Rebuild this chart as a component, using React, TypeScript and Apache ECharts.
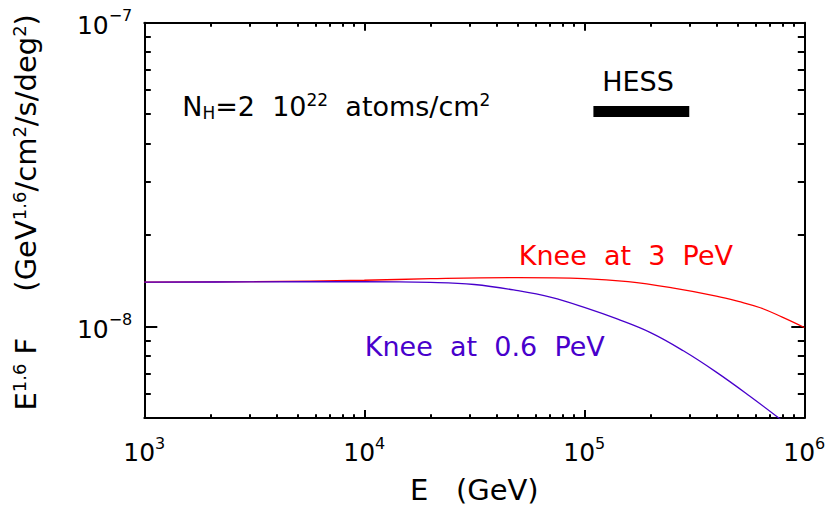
import { useEffect, useRef } from "react";
import * as echarts from "echarts";

// ---- data ----
const energyMin = 1e3; // GeV
const energyMax = 1e6;
const fluxMin = 5e-9;
const fluxMax = 1e-7;

const xMajorExponents = [3, 4, 5, 6];
const yMajorExponents = [-8, -7];

// Knee at 3 PeV (red)
const redEnergy = [1e3, 3.16e3, 1e4, 2e4, 5e4, 1e5, 1.58e5, 2.51e5, 3.98e5, 5.01e5, 6.31e5, 7.94e5, 1e6];
const redFlux = [1.4e-8, 1.405e-8, 1.42e-8, 1.437e-8, 1.448e-8, 1.438e-8, 1.405e-8, 1.34e-8, 1.26e-8, 1.21e-8, 1.153e-8, 1.074e-8, 0.993e-8];

// Knee at 0.6 PeV (blue)
const blueEnergy = [1e3, 3e3, 1e4, 2e4, 3.16e4, 5e4, 7.08e4, 1e5, 1.41e5, 2e5, 2.82e5, 3.98e5, 5.62e5, 7.94e5];
const blueFlux = [1.4e-8, 1.402e-8, 1.405e-8, 1.397e-8, 1.375e-8, 1.312e-8, 1.247e-8, 1.156e-8, 1.059e-8, 0.955e-8, 0.832e-8, 0.708e-8, 0.592e-8, 0.49e-8];

// HESS bar
const hessEnergy = [1.1e5, 3.0e5];
const hessFlux = [5.1e-8, 5.1e-8];

// annotations
const annotationText = [
  "{m|N}{sub|H}{m|=2  10}{sup|22}{m|  atoms/cm}{sup|2}",
  "{m|HESS}",
  "{m|Knee  at  3  PeV}",
  "{m|Knee  at  0.6  PeV}",
];
const annotationEnergy = [1.48e3, 1.2e5, 5.01e4, 1.0e4];
const annotationFlux = [5.3e-8, 6.42e-8, 1.707e-8, 8.6e-9];
const annotationColor = ["#000000", "#000000", "#ff0000", "#4800cc"];

const xTitle = "E   (GeV)";
const yTitle = "{m|E}{sup|1.6}{m| F     (GeV}{sup|1.6}{m|/cm}{sup|2}{m|/s/deg}{sup|2}{m|)}";

const FONT = "DejaVu Sans";
const lg = (v: number) => Math.log10(v);

const powerLabel = (v: number) => {
  const e = Math.round(v);
  const s = e < 0 ? "\u2212" + String(-e) : String(e);
  return `{b|10}{s|${s}}`;
};

const tickRich = {
  b: { fontFamily: FONT, fontSize: 25, lineHeight: 30, color: "#000", verticalAlign: "bottom" },
  s: { fontFamily: FONT, fontSize: 16, lineHeight: 16, color: "#000", verticalAlign: "top" },
};

export default function App() {
  const ref = useRef<HTMLDivElement>(null);

  useEffect(() => {
    if (!ref.current) return;
    const chart = echarts.init(ref.current, null, { renderer: "svg" });

    const xLo = lg(energyMin);
    const xHi = lg(energyMax);
    const yLo = lg(fluxMin);
    const yHi = lg(fluxMax);

    const xMajor = xMajorExponents.slice();
    const xMinor: number[] = [];
    for (let n = 3; n < 6; n++) for (let k = 2; k <= 9; k++) xMinor.push(lg(k * Math.pow(10, n)));
    const yMajor = yMajorExponents.slice();
    const yMinor: number[] = [];
    for (let n = -9; n < -7; n++)
      for (let k = 2; k <= 9; k++) {
        const v = lg(k * Math.pow(10, n));
        if (v > yLo + 1e-6 && v < yHi - 1e-6) yMinor.push(v);
      }

    const gridRect = { left: 144.3, right: 25.7, top: 22.7, bottom: 90.7 };
    const axisLineStyle = { color: "#000", width: 2 };

    const mkX = (grid: number, pos: "top" | "bottom", major: boolean, labels: boolean) => ({
      type: "value",
      gridIndex: grid,
      position: pos,
      min: xLo,
      max: xHi,
      interval: 1,
      axisLine: { show: major, onZero: false, lineStyle: axisLineStyle },
      axisTick: {
        show: true,
        inside: true,
        length: major ? 8 : 4,
        customValues: major ? xMajor : xMinor,
        lineStyle: { color: "#000", width: 2 },
      },
      axisLabel: labels
        ? { show: true, customValues: xMajor, formatter: powerLabel, rich: tickRich, margin: 17 }
        : { show: false },
      splitLine: { show: false },
      name: labels ? xTitle : "",
      nameLocation: "middle",
      nameGap: 57,
      nameTextStyle: { fontFamily: FONT, fontSize: 29, color: "#000" },
    });

    const mkY = (grid: number, pos: "left" | "right", major: boolean, labels: boolean) => ({
      type: "value",
      gridIndex: grid,
      position: pos,
      min: yLo,
      max: yHi,
      axisLine: { show: major, onZero: false, lineStyle: axisLineStyle },
      axisTick: {
        show: true,
        inside: true,
        length: major ? 13 : 6.5,
        customValues: major ? yMajor : yMinor,
        lineStyle: { color: "#000", width: 2 },
      },
      axisLabel: labels
        ? { show: true, customValues: yMajor, formatter: powerLabel, rich: tickRich, margin: 12 }
        : { show: false },
      splitLine: { show: false },
      name: labels ? yTitle : "",
      nameLocation: "middle",
      nameGap: 102,
      nameTextStyle: {
        fontFamily: FONT,
        fontSize: 29,
        color: "#000",
        padding: [0, 0, 0, 16],
        rich: {
          m: { fontFamily: FONT, fontSize: 29, lineHeight: 32, color: "#000" },
          sup: { fontFamily: FONT, fontSize: 18, lineHeight: 18, color: "#000", verticalAlign: "top" },
        },
      },
    });

    const lineSeries = (name: string, xs: number[], ys: number[], color: string) => ({
      name,
      type: "line",
      xAxisIndex: 0,
      yAxisIndex: 0,
      data: xs.map((e, i) => [lg(e), lg(ys[i])]),
      showSymbol: false,
      symbol: "none",
      smooth: 0.4,
      clip: true,
      lineStyle: { color, width: 1.3, opacity: 1 },
    });

    chart.setOption({
      animation: false,
      backgroundColor: "#ffffff",
      grid: [
        { ...gridRect, containLabel: false },
        { ...gridRect, containLabel: false },
      ],
      xAxis: [mkX(0, "bottom", true, true), mkX(0, "top", true, false), mkX(1, "bottom", false, false), mkX(1, "top", false, false)],
      yAxis: [mkY(0, "left", true, true), mkY(0, "right", true, false), mkY(1, "left", false, false), mkY(1, "right", false, false)],
      series: [
        lineSeries("Knee at 3 PeV", redEnergy, redFlux, "#ff0000"),
        lineSeries("Knee at 0.6 PeV", blueEnergy, blueFlux, "#4800cc"),
        {
          name: "HESS",
          type: "line",
          xAxisIndex: 0,
          yAxisIndex: 0,
          data: hessEnergy.map((e, i) => [lg(e), lg(hessFlux[i])]),
          symbol: "none",
          lineStyle: { color: "#000", width: 11, cap: "butt", opacity: 1 },
        },
        {
          name: "annotations",
          type: "scatter",
          xAxisIndex: 0,
          yAxisIndex: 0,
          symbolSize: 1,
          itemStyle: { color: "rgba(0,0,0,0)", opacity: 1 },
          emphasis: { disabled: true },
          data: annotationEnergy.map((e, i) => ({
            value: [lg(e), lg(annotationFlux[i])],
            label: {
              show: true,
              position: "right",
              distance: 0,
              opacity: 1,
              color: annotationColor[i],
              formatter: annotationText[i],
              rich: {
                m: { fontFamily: FONT, fontSize: 27, lineHeight: 30, color: annotationColor[i] },
                sup: { fontFamily: FONT, fontSize: 17, lineHeight: 17, color: annotationColor[i], verticalAlign: "top" },
                sub: { fontFamily: FONT, fontSize: 17, lineHeight: 17, color: annotationColor[i], verticalAlign: "bottom" },
              },
            },
          })),
        },
      ],
    });

    return () => chart.dispose();
  }, []);

  return (
    <div
      ref={ref}
      style={{ position: "fixed", left: 0, top: 0, width: 830, height: 509, background: "#fff" }}
    />
  );
}
